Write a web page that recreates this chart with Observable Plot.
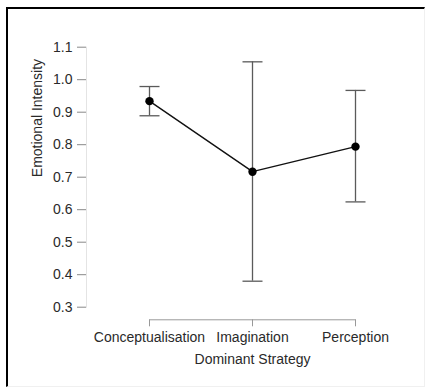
<!DOCTYPE html>
<html>
<head>
<meta charset="utf-8">
<script src="https://cdn.jsdelivr.net/npm/d3@7"></script>
<script src="https://cdn.jsdelivr.net/npm/@observablehq/plot@0.6"></script>
<style>
  html, body { margin: 0; padding: 0; background: #fff; }
  #wrap { position: relative; width: 425px; height: 390px; overflow: hidden; }
  #border { position: absolute; left: 6px; top: 7px; width: 416px; height: 377px;
    border-top: 2px solid #000; border-left: 2px solid #000;
    border-right: 1px solid #f0f0f0; border-bottom: 1px solid #f0f0f0; pointer-events: none; }
  #chart { position: absolute; left: 0; top: 0; }
  svg { font-family: "Liberation Sans", Arial, sans-serif; }
</style>
</head>
<body>
<div id="wrap"><div id="chart"></div><div id="border"></div></div>
<script>
const categories = ["Conceptualisation", "Imagination", "Perception"];
const means = [0.934, 0.717, 0.794];
const lower = [0.889, 0.380, 0.624];
const upper = [0.979, 1.055, 0.967];
const yTicks = [0.3, 0.4, 0.5, 0.6, 0.7, 0.8, 0.9, 1.0, 1.1];

const data = categories.map((c, i) => ({cat: c, mean: means[i], lo: lower[i], hi: upper[i]}));

const capSymbol = {
  draw(context, size) {
    const h = Math.sqrt(size / Math.PI);
    context.moveTo(-h, 0);
    context.lineTo(h, 0);
  }
};

const yTop = 46.7, yBot = 306.7;
const chart = Plot.plot({
  width: 425,
  height: 390,
  marginLeft: 86,
  marginRight: 70,
  marginTop: yTop,
  marginBottom: 390 - yBot,
  style: {fontFamily: "'Liberation Sans', Arial, sans-serif", fontSize: "14px", color: "#2a2a2a", background: "transparent"},
  x: {type: "point", domain: categories, padding: 0, insetLeft: 62, label: null},
  y: {domain: [0.3, 1.1], label: null},
  marks: [
    Plot.frame({anchor: "left", stroke: "#e4e4e4", strokeWidth: 1}),
    Plot.axisY({ticks: yTicks, tickFormat: d3.format(".1f"), tickSize: 9, tickPadding: 5, stroke: "#888", fill: "#2a2a2a", fontSize: 14, label: null}),
    Plot.text(["Emotional Intensity"], {frameAnchor: "left", y: () => 0.7, dx: -49, rotate: -90, fontSize: 14, fill: "#2a2a2a", text: d => d}),
    Plot.link([0], {x1: () => categories[0], x2: () => categories[categories.length - 1], y1: () => 0.3, y2: () => 0.3, dy: 12.6, stroke: "#999", strokeWidth: 1}),
    Plot.axisX({tickSize: 7, tickPadding: 5, dy: 12.6, stroke: "#999", fill: "#2a2a2a", fontSize: 14, label: null}),
    Plot.text(["Dominant Strategy"], {x: () => categories[1], frameAnchor: "bottom", dy: 57, fontSize: 14, fill: "#2a2a2a", text: d => d}),
    Plot.ruleX(data, {x: "cat", y1: "lo", y2: "hi", stroke: "#5a5a5a", strokeWidth: 1.3}),
    Plot.dot(data, {x: "cat", y: "lo", r: 10, symbol: capSymbol, fill: "none", stroke: "#5a5a5a", strokeWidth: 1.3}),
    Plot.dot(data, {x: "cat", y: "hi", r: 10, symbol: capSymbol, fill: "none", stroke: "#5a5a5a", strokeWidth: 1.3}),
    Plot.line(data, {x: "cat", y: "mean", stroke: "#111", strokeWidth: 1.4}),
    Plot.dot(data, {x: "cat", y: "mean", r: 4.2, fill: "#000", stroke: "none"})
  ]
});
document.getElementById("chart").appendChild(chart);
</script>
</body>
</html>
